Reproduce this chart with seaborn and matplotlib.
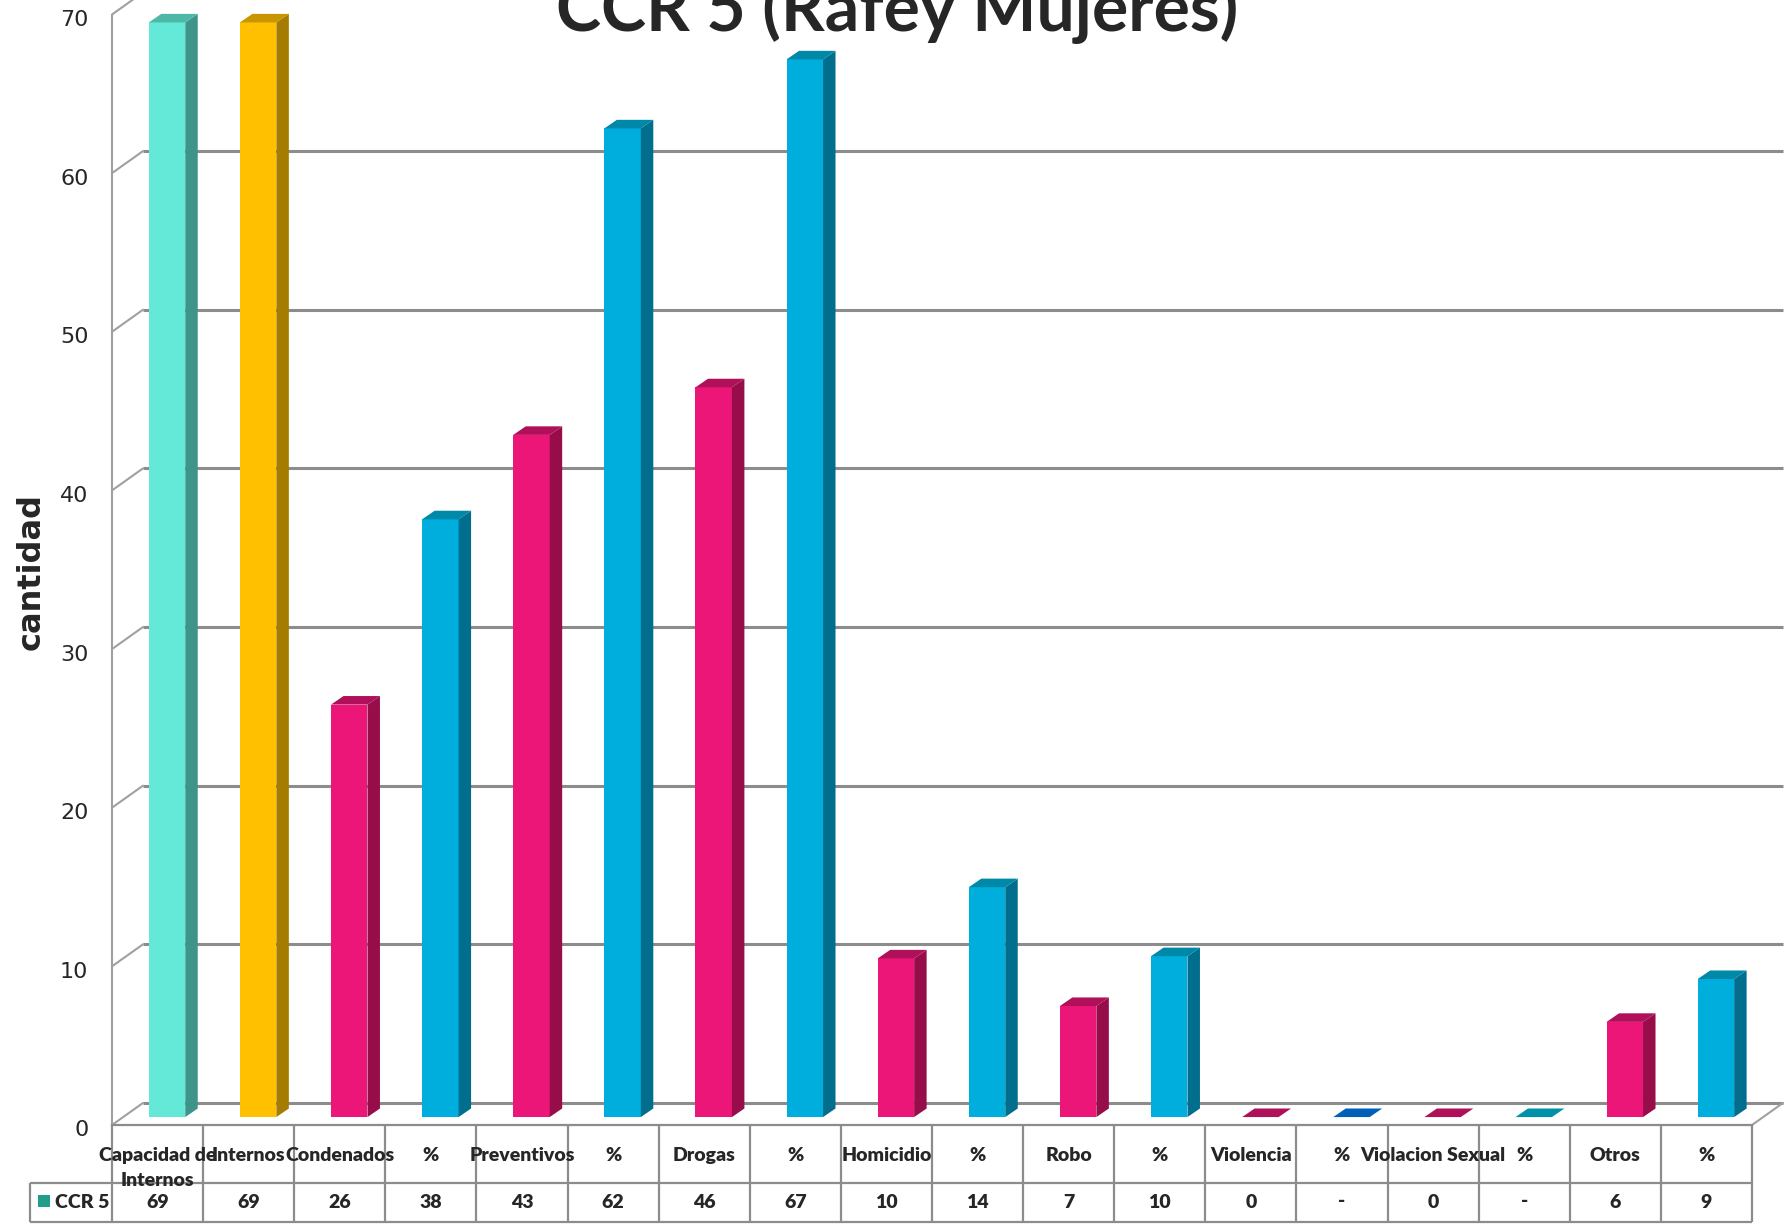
import numpy as np
import pandas as pd
import matplotlib
matplotlib.use("Agg")
import matplotlib.pyplot as plt
from matplotlib.patches import Polygon, Rectangle
from matplotlib.transforms import Affine2D, ScaledTranslation, blended_transform_factory
import seaborn as sns

# ---- data ----
categories = ["Capacidad de\nInternos", "Internos", "Condenados", "%", "Preventivos", "%",
              "Drogas", "%", "Homicidio", "%", "Robo", "%", "Violencia", "%",
              "Violacion Sexual", "%", "Otros", "%"]
values = [69, 69, 26, 37.68, 43, 62.32, 46, 66.67, 10, 14.49, 7, 10.14, 0, 0, 0, 0, 6, 8.70]
table_values = ["69", "69", "26", "38", "43", "62", "46", "67", "10", "14",
                "7", "10", "0", "-", "0", "-", "6", "9"]
series_name = "CCR 5"
title = "CCR 5 (Rafey Mujeres)"
y_label = "cantidad"
yticks = [0, 10, 20, 30, 40, 50, 60, 70]

# ---- colours (front / side / top face of each column) ----
TURQ = ("#64E9D8", "#3D9488", "#4DB8A8")
GOLD = ("#FFC000", "#A67C00", "#C89600")
MAG = ("#EC1678", "#960D4A", "#B0105A")
BLUE = ("#00AEDE", "#006E8C", "#0088A8")
bar_styles = [TURQ, GOLD] + [MAG, BLUE] * 8
front_colors = [s[0] for s in bar_styles]
side_colors = [s[1] for s in bar_styles]
top_colors = [s[2] for s in bar_styles]
top_colors[13] = "#0060B8"
top_colors[15] = "#0090A8"
legend_color = "#1F9E89"
GRID = "#8C8C8C"
LINE = "#A0A0A0"

# ---- layout (pixels of the 1787x1225 canvas) ----
W, H = 1787, 1225
AX_L, AX_R, Y0, Y70 = 112, 1752, 1125, 14.5
BAR_DX, BAR_DY = 0.104, 0.50      # bar front face pushed into the floor
DEPTH_DX, DEPTH_DY = 0.137, 0.54  # bar depth
BACK_DX, BACK_DY = 0.34, 1.39     # back wall offset


def fy(px):
    return 1 - px / H


sns.set_style("white")
fig = plt.figure(figsize=(W / 100, H / 100), dpi=100)
ax = fig.add_axes([AX_L / W, fy(Y0), (AX_R - AX_L) / W, (Y0 - Y70) / H])

df = pd.DataFrame({"pos": [f"c{i}" for i in range(len(values))], "valor": values})
palette = dict(zip(df["pos"], front_colors))
sns.barplot(data=df, x="pos", y="valor", hue="pos", palette=palette, legend=False,
            width=0.4, linewidth=0, saturation=1, ax=ax, zorder=2)

ax.set_xlim(-0.5, len(values) - 0.5)
ax.set_ylim(0, 70)

shift = Affine2D().translate(BAR_DX, BAR_DY) + ax.transData
back = Affine2D().translate(BACK_DX, BACK_DY) + ax.transData

# 3d look: move front faces, add side and top faces
for p in ax.patches:
    i = int(round(p.get_x() + p.get_width() / 2))
    p.set_transform(shift)
    p.set_clip_on(False)
    x0, x1, h = p.get_x(), p.get_x() + p.get_width(), p.get_height()
    side = [(x1, 0), (x1 + DEPTH_DX, DEPTH_DY), (x1 + DEPTH_DX, h + DEPTH_DY), (x1, h)]
    top = [(x0, h), (x0 + DEPTH_DX, h + DEPTH_DY), (x1 + DEPTH_DX, h + DEPTH_DY), (x1, h)]
    if h > 0:
        ax.add_patch(Polygon(side, closed=True, facecolor=side_colors[i], lw=0,
                             transform=shift, clip_on=False, zorder=2))
    ax.add_patch(Polygon(top, closed=True, facecolor=top_colors[i], lw=0,
                         transform=shift, clip_on=False, zorder=2))

# back wall gridlines and floor
n = len(values)
for v in yticks:
    ax.plot([-0.5, n - 0.5], [v, v], transform=back, color=GRID, lw=2.2,
            clip_on=False, zorder=0.5, solid_capstyle="butt")
    ax.plot([-0.5, -0.5 + BACK_DX], [v, v + BACK_DY], color=LINE, lw=1.5,
            clip_on=False, zorder=0.6)
ax.plot([n - 0.5, n - 0.5 + BACK_DX], [0, BACK_DY], color=LINE, lw=1.5,
        clip_on=False, zorder=0.6)

for s in ["top", "right"]:
    ax.spines[s].set_visible(False)
ax.spines["left"].set_color(LINE)
ax.spines["left"].set_linewidth(1.5)
ax.spines["bottom"].set_color(GRID)
ax.spines["bottom"].set_linewidth(1.6)

ax.set_xticks([])
ax.set_yticks(yticks)
ax.tick_params(axis="y", length=0, pad=17, labelsize=16)
nudge = ScaledTranslation(0, -3.5 / 100, fig.dpi_scale_trans)
for lab in ax.get_yticklabels():
    lab.set_transform(lab.get_transform() + nudge)
ax.set_xlabel("")
ax.set_ylabel("")

# ---- data table under the plot ----
tb = blended_transform_factory(ax.transData, fig.transFigure)
left_edge = -1.4
tkw = dict(color=GRID, lw=1.6, transform=tb, clip_on=False, solid_capstyle="butt")
ax.plot([left_edge, n - 0.5], [fy(1183), fy(1183)], **tkw)
ax.plot([left_edge, n - 0.5], [fy(1222), fy(1222)], **tkw)
ax.plot([left_edge, left_edge], [fy(1183), fy(1222)], **tkw)
for i in range(n + 1):
    ax.plot([i - 0.5, i - 0.5], [fy(Y0), fy(1222)], **tkw)

font_tab = dict(fontsize=14, fontweight="heavy", family=["Lato", "DejaVu Sans"])
for i, (lab, val) in enumerate(zip(categories, table_values)):
    ax.text(i, fy(1147), lab, transform=tb, ha="center", va="top", linespacing=1.55,
            **font_tab)
    ax.text(i, fy(1202), val, transform=tb, ha="center", va="center", **font_tab)

fig.add_artist(Rectangle((38 / W, fy(1207)), 12 / W, 12 / H, transform=fig.transFigure,
                         facecolor=legend_color, lw=0))
fig.text(55 / W, fy(1202), series_name, ha="left", va="center", **font_tab)

fig.text(897 / W, fy(31), title, ha="center", va="baseline", fontsize=49,
         fontweight="bold", family=["Lato", "DejaVu Sans"])
fig.text(31 / W, fy(571), y_label, rotation=90, ha="center", va="center",
         fontsize=23, fontweight="heavy")

fig.savefig("out.png", dpi=100)
